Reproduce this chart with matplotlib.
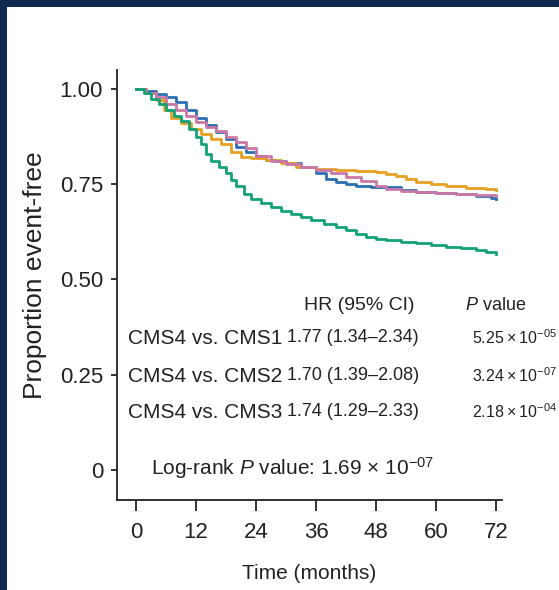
import matplotlib
matplotlib.use("Agg")
import matplotlib.pyplot as plt

plt.rcParams['font.family'] = ['Liberation Sans', 'DejaVu Sans']
plt.rcParams['mathtext.fontset'] = 'custom'
plt.rcParams['mathtext.rm'] = 'Liberation Sans'
plt.rcParams['mathtext.it'] = 'Liberation Sans:italic'

# ---- data ----
cms4_t = [0, 1.5, 3, 4.5, 6, 7.5, 9, 10.5, 12, 13, 14, 15, 16.5, 18, 19, 20, 21.5, 23, 25, 27,
          29, 31, 33, 35, 37.5, 40, 42, 44, 46, 48, 50, 53, 56, 59, 62, 65, 68, 70, 72]
cms4_s = [1.0, 0.99, 0.975, 0.96, 0.945, 0.93, 0.915, 0.895, 0.875, 0.855, 0.83, 0.81, 0.795,
          0.78, 0.76, 0.745, 0.725, 0.71, 0.70, 0.69, 0.68, 0.672, 0.665, 0.655, 0.645, 0.638,
          0.63, 0.62, 0.612, 0.607, 0.603, 0.599, 0.595, 0.59, 0.586, 0.582, 0.578, 0.572, 0.568]

cms2_t = [0, 2, 4, 6, 8, 10, 12, 14, 16, 18, 20, 22, 24, 26, 28, 30, 33, 36, 38, 40, 42, 44,
          47, 50, 53, 56, 60, 64, 68, 71, 72]
cms2_s = [1.0, 0.995, 0.988, 0.98, 0.965, 0.945, 0.925, 0.905, 0.888, 0.868, 0.848, 0.835,
          0.825, 0.815, 0.81, 0.805, 0.795, 0.78, 0.765, 0.757, 0.75, 0.745, 0.744, 0.742,
          0.735, 0.73, 0.728, 0.725, 0.72, 0.715, 0.712]

cms1_t = [0, 2, 4, 5.5, 7, 9, 11, 13, 15, 17, 19, 21, 23, 26, 29, 32, 36, 40, 44, 48, 50, 52,
          54, 56, 59, 62, 66, 70, 72]
cms1_s = [1.0, 0.99, 0.97, 0.945, 0.925, 0.91, 0.895, 0.882, 0.87, 0.855, 0.835, 0.822, 0.818,
          0.814, 0.805, 0.796, 0.79, 0.787, 0.786, 0.783, 0.778, 0.772, 0.765, 0.757, 0.75,
          0.745, 0.74, 0.737, 0.735]

cms3_t = [0, 2, 4, 6, 8, 10, 12, 14, 16, 18, 20, 22, 24, 27, 30, 33, 36, 39, 42, 45, 48, 50,
          53, 56, 60, 64, 68, 72]
cms3_s = [1.0, 0.99, 0.978, 0.962, 0.945, 0.93, 0.913, 0.9, 0.89, 0.875, 0.862, 0.845, 0.825,
          0.812, 0.803, 0.795, 0.788, 0.78, 0.77, 0.758, 0.745, 0.738, 0.732, 0.73, 0.727,
          0.725, 0.723, 0.72]

x_ticks = [0, 12, 24, 36, 48, 60, 72]
y_ticks = [0, 0.25, 0.5, 0.75, 1.0]
y_ticklabels = ['0', '0.25', '0.50', '0.75', '1.00']

comparisons = ['CMS4 vs. CMS1', 'CMS4 vs. CMS2', 'CMS4 vs. CMS3']
hr_ci = ['1.77 (1.34–2.34)', '1.70 (1.39–2.08)', '1.74 (1.29–2.33)']
p_mant = ['5.25', '3.24', '2.18']
p_exp = ['05', '07', '04']
logrank_mant = '1.69'
logrank_exp = '07'

colors = {'CMS1': '#E79F24', 'CMS2': '#2a6fb3', 'CMS3': '#CA78A6', 'CMS4': '#12a275'}

W, H = 559, 590
fig = plt.figure(figsize=(W / 100, H / 100), dpi=100)
fig.patch.set_facecolor('#0f2a4e')
bg = fig.add_axes([7 / W, 0, 1 - 7 / W, 1 - 7 / H], zorder=-5)
bg.set_facecolor('white')
bg.set_xticks([]); bg.set_yticks([])
for s in bg.spines.values():
    s.set_visible(False)

ax = fig.add_axes([117 / W, 1 - 500 / H, (502 - 117) / W, (500 - 70) / H], zorder=2)
ax.set_facecolor('none')

lw = 2.0
ax.plot(cms2_t, cms2_s, drawstyle='steps-post', color=colors['CMS2'], lw=lw)
ax.plot(cms1_t, cms1_s, drawstyle='steps-post', color=colors['CMS1'], lw=lw)
ax.plot(cms3_t, cms3_s, drawstyle='steps-post', color=colors['CMS3'], lw=lw)
ax.plot(cms4_t, cms4_s, drawstyle='steps-post', color=colors['CMS4'], lw=lw)

ax.set_xlim(-3.8, 73.2)
ax.set_ylim(-0.079, 1.05)
ax.spines['top'].set_visible(False)
ax.spines['right'].set_visible(False)
for s in ['left', 'bottom']:
    ax.spines[s].set_linewidth(1.3)
    ax.spines[s].set_color('#222222')

tc = '#222222'
ax.set_xticks(x_ticks)
ax.set_xticklabels([str(t) for t in x_ticks])
ax.set_yticks(y_ticks)
ax.set_yticklabels(y_ticklabels)
ax.tick_params(axis='x', length=8, width=1.3, pad=8, labelsize=16, colors=tc)
ax.tick_params(axis='y', length=4, width=1.3, pad=6, labelsize=16, colors=tc)

ax.set_xlabel('Time (months)', fontsize=15, color=tc, labelpad=15)
ax.set_ylabel('Proportion event-free', fontsize=19, color=tc)
ax.yaxis.set_label_coords((47 - 117) / 385, (500 - 275) / 430)

def fx(px):
    return px / W
def fy(py):
    return 1 - py / H

thin = '\u2009'
kw = dict(color=tc, va='center')
fig.text(fx(359), fy(305), 'HR (95% CI)', ha='center', fontsize=14, **kw)
fig.text(fx(496), fy(305), r'$\it{P}$ value', ha='center', fontsize=13, **kw)
rows_y = [338, 376, 412]
for i, yy in enumerate(rows_y):
    fig.text(fx(128), fy(yy), comparisons[i], ha='left', fontsize=15, **kw)
    fig.text(fx(287), fy(yy), hr_ci[i], ha='left', fontsize=13, **kw)
    fig.text(fx(472), fy(yy),
             p_mant[i] + thin + '×' + thin + '10' + r'$^{\mathregular{-' + p_exp[i] + '}}$',
             ha='left', fontsize=11.5, **kw)

fig.text(fx(151), fy(468), r'Log-rank $\it{P}$ value: ' + logrank_mant + ' × 10' +
         r'$^{\mathregular{-' + logrank_exp + '}}$', ha='left', fontsize=15, **kw)

fig.savefig('out.png', dpi=100, facecolor=fig.get_facecolor())
